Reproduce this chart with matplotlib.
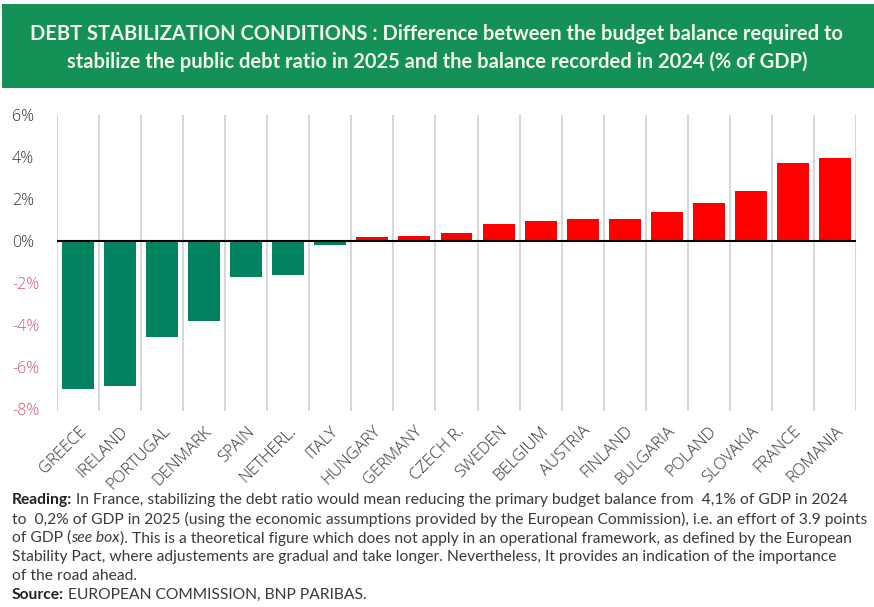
import matplotlib
matplotlib.use("Agg")
import matplotlib.pyplot as plt
from matplotlib import font_manager as fm
from matplotlib.patches import Rectangle

countries = ["GREECE", "IRELAND", "PORTUGAL", "DENMARK", "SPAIN", "NETHERL.", "ITALY",
             "HUNGARY", "GERMANY", "CZECH R.", "SWEDEN", "BELGIUM", "AUSTRIA", "FINLAND",
             "BULGARIA", "POLAND", "SLOVAKIA", "FRANCE", "ROMANIA"]
values = [-7.05, -6.92, -4.57, -3.81, -1.71, -1.65, -0.21,
          0.17, 0.25, 0.35, 0.81, 0.92, 1.03, 1.03,
          1.39, 1.79, 2.37, 3.73, 3.95]
yticks = [-8, -6, -4, -2, 0, 2, 4, 6]
ytick_labels = ["-8%", "-6%", "-4%", "-2%", "0%", "2%", "4%", "6%"]

title_lines = ["DEBT STABILIZATION CONDITIONS : Difference between the budget balance required to",
               "stabilize the public debt ratio in 2025 and the balance recorded in 2024 (% of GDP)"]

names = {f.name for f in fm.fontManager.ttflist}
tfont = "Lato" if "Lato" in names else "DejaVu Sans"
light = "Open Sans" if "Open Sans" in names else "DejaVu Sans"

W, H = 874, 607
fig = plt.figure(figsize=(W / 100, H / 100), dpi=100)
fig.patch.set_facecolor("white")
renderer = fig.canvas.get_renderer()


def fit(text_obj, target_px):
    fs = text_obj.get_fontsize()
    w = text_obj.get_window_extent(renderer).width
    text_obj.set_fontsize(fs * target_px / w)


# header
fig.patches.append(Rectangle((2 / W, 1 - 88 / H), 1, 84 / H, transform=fig.transFigure,
                             facecolor="#139157", edgecolor="none", zorder=0))
t1 = fig.text(0.5, 1 - 34 / H, title_lines[0], ha="center", va="center", color="#f4f8ee",
              fontsize=13, fontweight="bold", family=tfont)
fit(t1, 811)
t2 = fig.text(0.5, 1 - 62 / H, title_lines[1], ha="center", va="center", color="#f4f8ee",
              fontsize=t1.get_fontsize(), fontweight="bold", family=tfont)

ax = fig.add_axes([57 / W, (H - 410.6) / H, (856 - 57) / W, (410.6 - 115) / H])
x = list(range(len(countries)))
colors = ["#02825f" if v < 0 else "#ff0000" for v in values]
ax.bar(x, values, width=0.76, color=colors, zorder=3)
ax.axhline(0, color="black", lw=1.5, zorder=4)
ax.set_xlim(-0.5, len(countries) - 0.5)
ax.set_ylim(-8.1, 6)
for b in [i + 0.5 for i in range(-1, len(countries))]:
    ax.axvline(b, color="#d6d6d6", lw=1.4, zorder=1)
for s in ax.spines.values():
    s.set_visible(False)
ax.set_yticks(yticks)
ax.set_yticklabels(ytick_labels, family=light, fontsize=11.5, fontweight="light")
for t, v in zip(ax.get_yticklabels(), yticks):
    t.set_color("#d9546a" if v < 0 else "#333333")
    t.set_horizontalalignment("left")
ax.tick_params(axis="y", length=0, pad=45 * 0.72)
ax.set_xticks(x)
ax.set_xticklabels(countries, rotation=45, ha="right", va="top", rotation_mode="anchor",
                   family=light, fontsize=12, fontweight="light", color="#333333")
ax.tick_params(axis="x", length=0, pad=9)

# footer: each line is a list of (text, style) segments
foot = [
    [("Reading:", "bold"), (" In France, stabilizing the debt ratio would mean reducing the primary budget balance from  4,1% of GDP in 2024", "normal")],
    [("to  0,2% of GDP in 2025 (using the economic assumptions provided by the European Commission), i.e. an effort of 3.9 points", "normal")],
    [("of GDP (", "normal"), ("see box", "italic"), ("). This is a theoretical figure which does not apply in an operational framework, as defined by the European", "normal")],
    [("Stability Pact, where adjustements are gradual and take longer. Nevertheless, It provides an indication of the importance", "normal")],
    [("of the road ahead.", "normal")],
    [("Source:", "bold"), (" EUROPEAN COMMISSION, BNP PARIBAS.", "normal")],
]
ys = [500, 519, 538, 557, 576, 595]

sizes = []
for line in foot[:4]:
    probe = fig.text(0, 0, "".join(s for s, _ in line), fontsize=11, family=tfont)
    w = probe.get_window_extent(renderer).width
    sizes.append(11 * (864 - 12) / w)
    probe.remove()
ffs = min(sizes)

for line, yy in zip(foot, ys):
    xx = 12 / W
    for seg, style in line:
        kw = dict(ha="left", va="center", fontsize=ffs, family=tfont, color="#3a3a3a")
        if style == "bold":
            kw.update(fontweight="bold", color="#222222")
        elif style == "italic":
            kw.update(fontstyle="italic")
        t = fig.text(xx, 1 - yy / H, seg, **kw)
        xx = t.get_window_extent(renderer).x1 / W

fig.savefig("out.png", dpi=100, facecolor="white")
